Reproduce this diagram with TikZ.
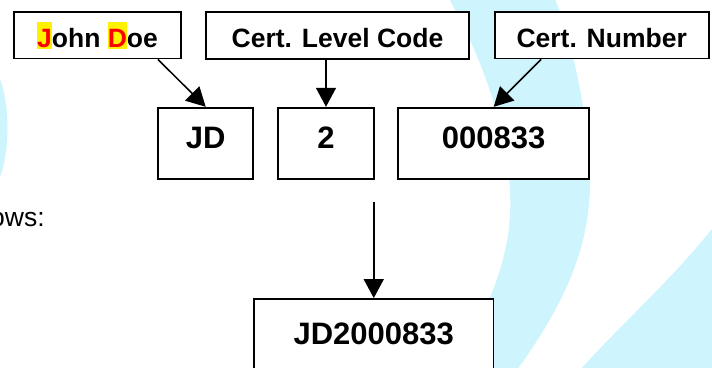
\documentclass[tikz,border=0pt]{standalone}
\usepackage{fontspec}
\setmainfont{Liberation Sans}
\usetikzlibrary{arrows.meta}
\definecolor{swoosh}{RGB}{206,244,253}
\newcommand{\hlt}[1]{{\setlength{\fboxsep}{0pt}\colorbox{yellow}{\rule[-0.05em]{0pt}{1.02em}\textcolor{red}{#1}}}}
\begin{document}
\begin{tikzpicture}[x=1pt,y=-1pt,
  topbox/.style={draw, fill=white, line width=1.8pt, inner sep=0pt, minimum height=46.5pt,
    text height=24.4pt, text depth=0pt, font=\bfseries\fontsize{26.5}{30}\selectfont},
  midbox/.style={draw, fill=white, line width=1.8pt, inner sep=0pt, minimum height=71pt,
    text height=10.2pt, text depth=0pt, font=\bfseries\fontsize{31}{36}\selectfont},
  conn/.style={line width=1.5pt, -{Triangle[length=19pt,width=20pt]}}]
\useasboundingbox (0,0) rectangle (712,367);
% background swooshes
\fill[swoosh] (448,-3) .. controls (495,80) and (518,170) .. (508,235)
  .. controls (500,287) and (475,330) .. (455,370) -- (517,370)
  .. controls (560,310) and (592,250) .. (590,175)
  .. controls (589,130) and (575,45) .. (554,-3) -- cycle;
\fill[swoosh] (716,224) .. controls (670,282) and (620,325) .. (580,370) -- (716,370) -- cycle;
\fill[swoosh] (-3,72) .. controls (11,100) and (11,156) .. (-3,184) -- cycle;
% text at left edge
\node[anchor=base west, inner sep=0pt, font=\fontsize{26.5}{30}\selectfont] (ows) at (-10,226) {ows:};
% top boxes
\node[topbox, minimum width=167pt] (john) at (97.5,35.3) {\hlt{J}ohn \hlt{D}oe};
\node[topbox, minimum width=263pt] (level) at (337.5,35.5) {Cert. Level Code};
\node[topbox, minimum width=214pt] (cnum) at (601.7,35.2) {Cert. Number};
% middle boxes
\node[midbox, minimum width=95.3pt] (jd) at (205.7,143.2) {JD};
\node[midbox, minimum width=95.4pt] (two) at (326,143.2) {2};
\node[midbox, minimum width=191.3pt] (num) at (493.7,143.2) {000833};
% final box
\node[midbox, minimum width=239.5pt, text height=19pt] (final) at (373.75,334.5) {JD2000833};
% connectors
\draw[conn] ([xshift=-24pt]john.south east) -- (jd.north);
\draw[conn] (two.north |- level.south) -- (two.north);
\draw[conn] ([xshift=-60.5pt]cnum.south) -- (num.north);
\coordinate (vtop) at (373.75,202);
\draw[conn] (vtop) -- (final.north);
\end{tikzpicture}
\end{document}
